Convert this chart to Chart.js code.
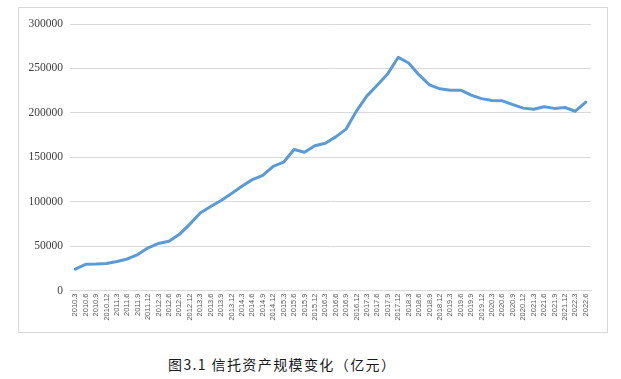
<!DOCTYPE html>
<html>
<head>
<meta charset="utf-8">
<script src="https://cdn.jsdelivr.net/npm/chart.js@4"></script>
<style>
    body { margin: 0; background: #fff; width: 621px; height: 379px; position: relative; overflow: hidden; }
    #frame { position: absolute; left: 18px; top: 7px; width: 588px; height: 324px; border: 1px solid #d9d9d9; }
    #caption {
        position: absolute; left: 168px; top: 355px;
        font-family: "Noto Sans CJK SC", sans-serif; font-size: 14px; line-height: 18px;
        letter-spacing: 1.4px; color: #1a1a1a; white-space: nowrap;
    }
</style>
</head>
<body>
<div id="frame"><canvas id="trustChart" width="588" height="324"></canvas></div>
<div id="caption">图3.1 信托资产规模变化（亿元）</div>
<script>
// Quarter labels on the category axis
const quarters = [
    '2010.3', '2010.6', '2010.9', '2010.12',
    '2011.3', '2011.6', '2011.9', '2011.12',
    '2012.3', '2012.6', '2012.9', '2012.12',
    '2013.3', '2013.6', '2013.9', '2013.12',
    '2014.3', '2014.6', '2014.9', '2014.12',
    '2015.3', '2015.6', '2015.9', '2015.12',
    '2016.3', '2016.6', '2016.9', '2016.12',
    '2017.3', '2017.6', '2017.9', '2017.12',
    '2018.3', '2018.6', '2018.9', '2018.12',
    '2019.3', '2019.6', '2019.9', '2019.12',
    '2020.3', '2020.6', '2020.9', '2020.12',
    '2021.3', '2021.6', '2021.9', '2021.12',
    '2022.3', '2022.6'
];

// Trust assets (亿元)
const trustAssets = [
    24000, 29500, 29800, 30400,
    32600, 35500, 40500, 48100,
    53000, 55400, 63200, 74700,
    87300, 94500, 101300, 109100,
    117300, 124800, 129500, 139800,
    144400, 158700, 155600, 163000,
    165800, 172900, 181700, 202200,
    219100, 231400, 244100, 262500,
    256100, 242700, 231400, 227000,
    225300, 225500, 220000, 216000,
    213800, 213500, 209300, 205300,
    204000, 206800, 205000, 206000,
    201800, 212000
];

const yTicks = [0, 50000, 100000, 150000, 200000, 250000, 300000];

document.addEventListener('DOMContentLoaded', function() {
    const canvas = document.getElementById('trustChart');

    new Chart(canvas, {
        type: 'line',
        data: {
            labels: quarters,
            datasets: [{
                data: trustAssets,
                borderColor: '#5b9bd5',
                borderWidth: 3,
                borderJoinStyle: 'round',
                borderCapStyle: 'round',
                pointRadius: 0,
                tension: 0,
                fill: false
            }]
        },
        options: {
            responsive: false,
            animation: false,
            layout: {
                padding: { left: 0, right: 16, top: 16, bottom: 0 }
            },
            plugins: {
                legend: { display: false },
                tooltip: { enabled: false }
            },
            scales: {
                x: {
                    offset: true,
                    grid: { display: false, drawTicks: false },
                    border: { display: true, color: '#d9d9d9', width: 1 },
                    ticks: {
                        autoSkip: false,
                        minRotation: 90,
                        maxRotation: 90,
                        padding: 3,
                        color: '#595959',
                        font: { family: 'Liberation Sans', size: 7.5 }
                    },
                    afterFit: function(scale) {
                        scale.height = 41.5;
                    }
                },
                y: {
                    min: 0,
                    max: 300000,
                    grid: { color: '#d9d9d9', lineWidth: 1, drawTicks: false },
                    border: { display: false },
                    afterBuildTicks: function(scale) {
                        scale.ticks = yTicks.map(v => ({ value: v }));
                    },
                    ticks: {
                        padding: 7,
                        color: '#404040',
                        font: { family: 'Liberation Serif', size: 11.5 },
                        callback: function(value) {
                            return String(value);
                        }
                    },
                    afterFit: function(scale) {
                        scale.width = 51;
                    }
                }
            }
        }
    });
});
</script>
</body>
</html>
